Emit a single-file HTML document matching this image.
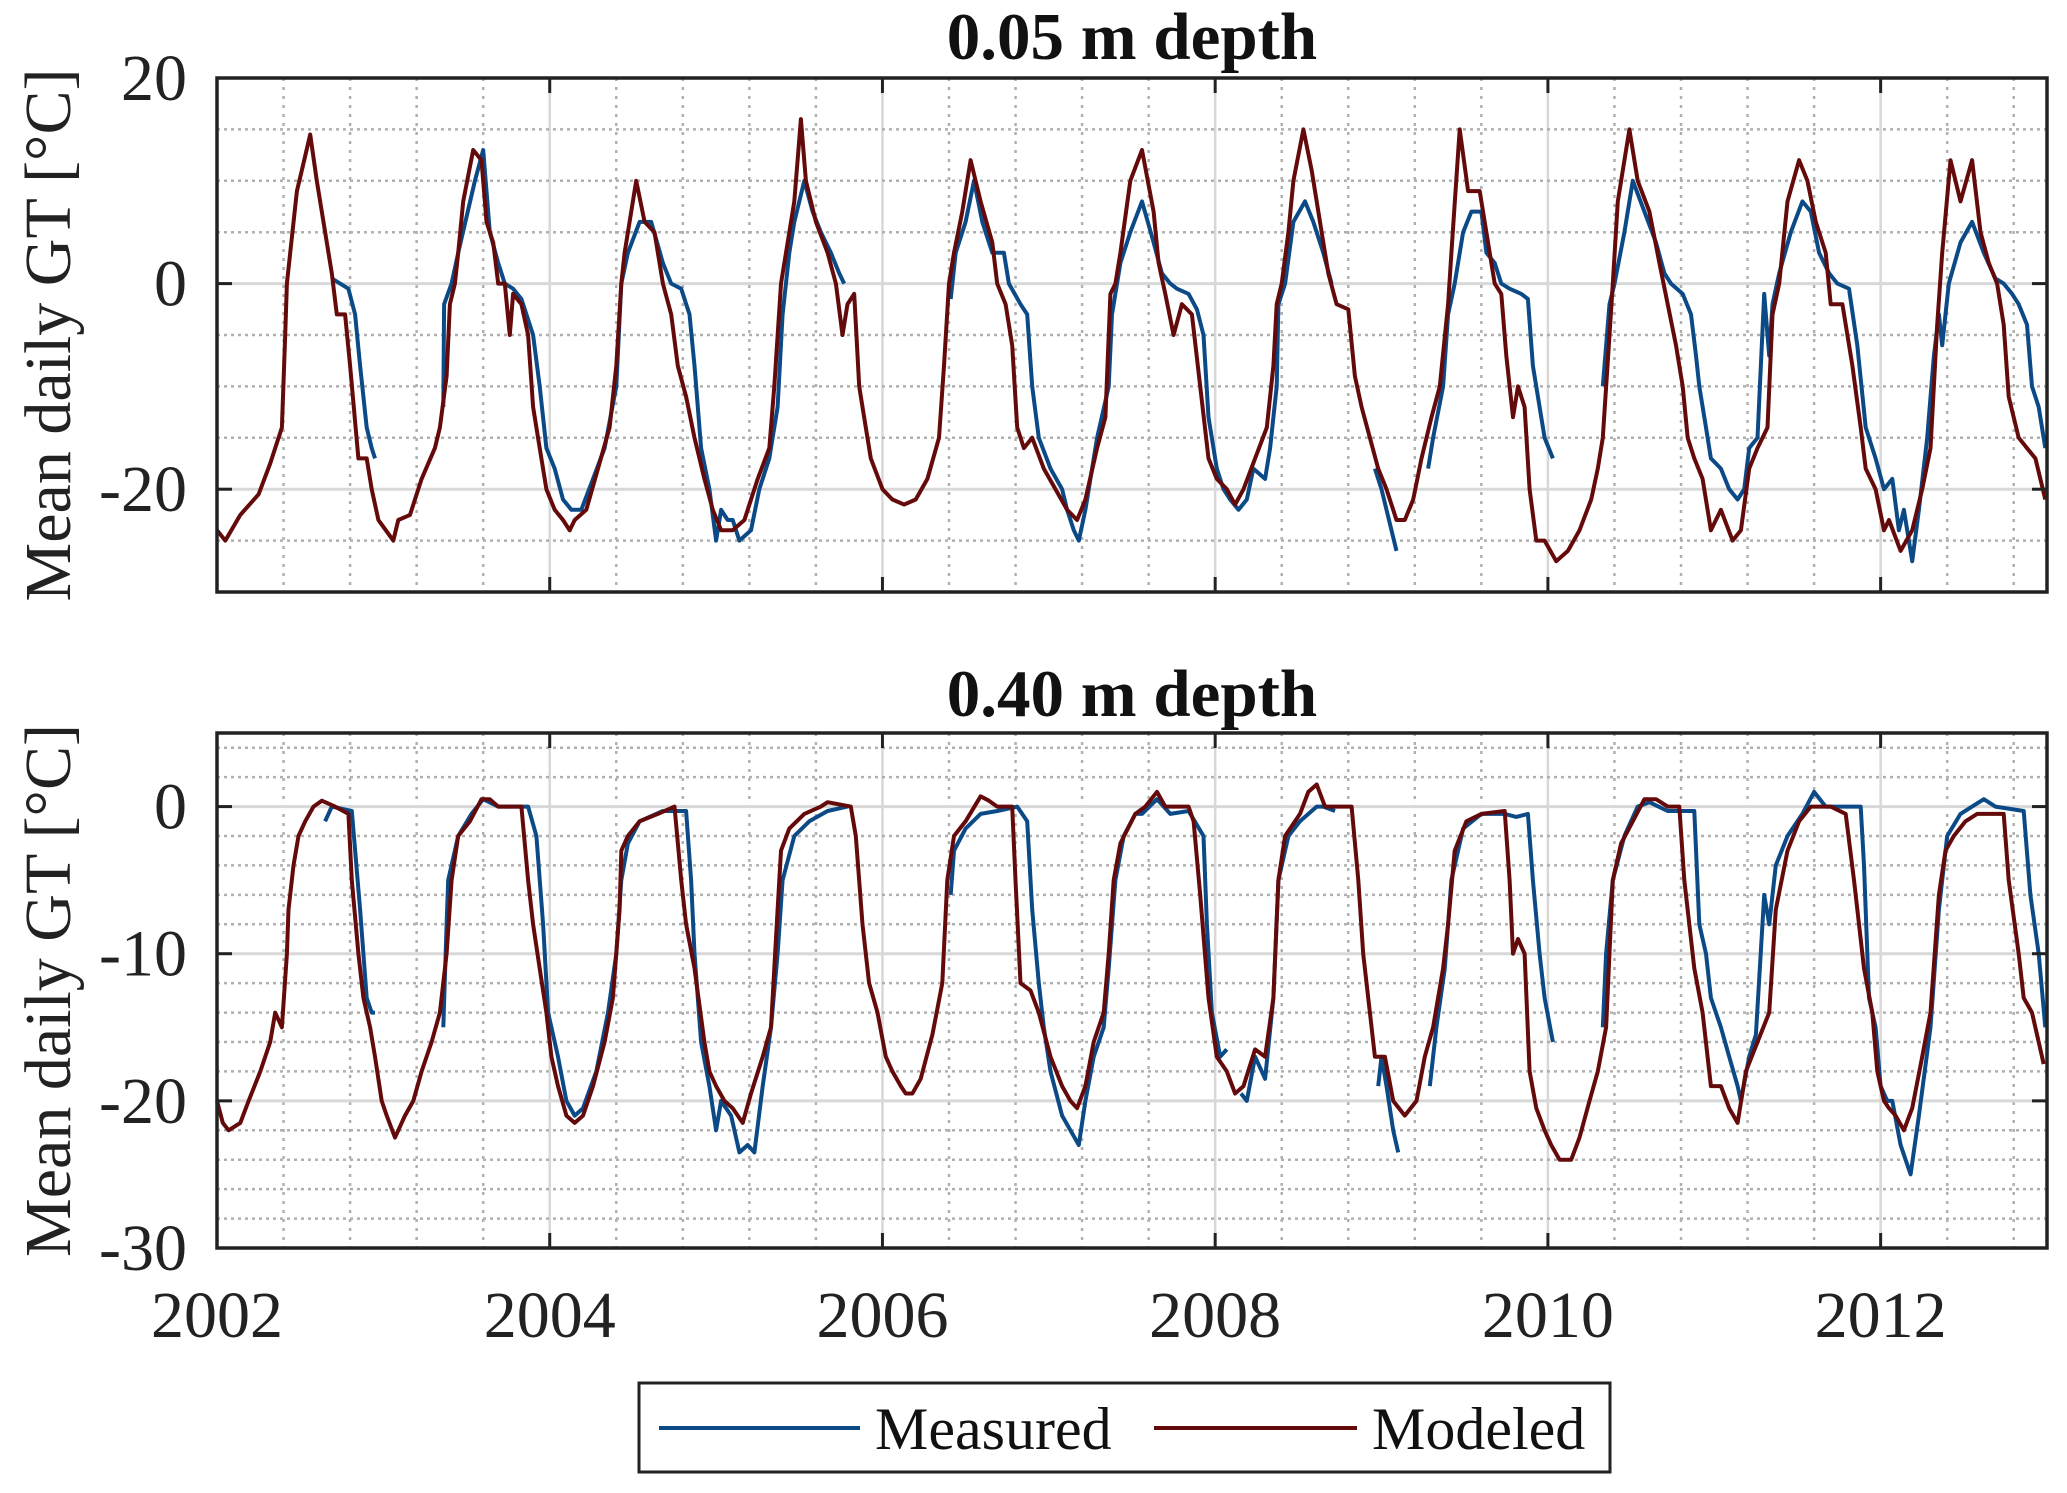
<!DOCTYPE html>
<html><head><meta charset="utf-8"><style>
html,body{margin:0;padding:0;background:#fff;}
svg{display:block;}
svg text{font-family:"Liberation Serif","Times New Roman",serif;}
</style></head><body>
<svg id="chart" width="2067" height="1493" viewBox="0 0 2067 1493" xmlns="http://www.w3.org/2000/svg" font-family="Liberation Serif, serif">
<rect width="2067" height="1493" fill="#fff"/>
<g id="plots"></g>
<g>
<rect x="639" y="1383" width="971" height="89" fill="#fff" stroke="#222" stroke-width="3"/>
<line x1="659" y1="1428" x2="860" y2="1428" stroke="#0b4a86" stroke-width="4"/>
<text x="875" y="1449" font-size="60" font-family="Liberation Serif, serif" fill="#111">Measured</text>
<line x1="1154" y1="1428" x2="1357" y2="1428" stroke="#640a0a" stroke-width="4"/>
<text x="1372" y="1449" font-size="60" font-family="Liberation Serif, serif" fill="#111">Modeled</text>
</g>
</svg>
<script>
// ---- data: 0.05 m depth ----
const modTopT=[2002.00,2002.05,2002.14,2002.25,2002.32,2002.39,2002.41,2002.42,2002.44,2002.48,2002.51,2002.56,2002.60,2002.63,2002.69,2002.72,2002.77,2002.80,2002.85,2002.90,2002.93,2002.97,2003.06,2003.09,2003.16,2003.23,2003.31,2003.34,2003.38,2003.40,2003.43,2003.45,2003.48,2003.54,2003.59,2003.62,2003.66,2003.69,2003.73,2003.76,2003.78,2003.83,2003.87,2003.90,2003.94,2003.98,2004.03,2004.08,2004.12,2004.15,2004.22,2004.29,2004.36,2004.40,2004.43,2004.45,2004.52,2004.57,2004.63,2004.68,2004.73,2004.77,2004.82,2004.87,2004.93,2004.98,2005.03,2005.10,2005.17,2005.25,2005.32,2005.35,2005.39,2005.42,2005.47,2005.51,2005.54,2005.60,2005.67,2005.72,2005.76,2005.79,2005.83,2005.86,2005.90,2005.93,2006.00,2006.06,2006.13,2006.20,2006.27,2006.34,2006.37,2006.40,2006.43,2006.48,2006.53,2006.59,2006.66,2006.69,2006.74,2006.78,2006.81,2006.85,2006.90,2006.97,2007.04,2007.11,2007.17,2007.22,2007.29,2007.34,2007.37,2007.40,2007.43,2007.49,2007.56,2007.63,2007.66,2007.70,2007.75,2007.80,2007.86,2007.91,2007.96,2008.01,2008.07,2008.12,2008.17,2008.24,2008.31,2008.35,2008.37,2008.40,2008.44,2008.47,2008.53,2008.58,2008.63,2008.68,2008.73,2008.80,2008.84,2008.88,2008.93,2008.98,2009.03,2009.09,2009.14,2009.19,2009.24,2009.30,2009.35,2009.40,2009.42,2009.47,2009.52,2009.59,2009.65,2009.68,2009.72,2009.75,2009.79,2009.82,2009.86,2009.89,2009.93,2009.98,2010.05,2010.12,2010.19,2010.26,2010.30,2010.33,2010.37,2010.39,2010.42,2010.49,2010.54,2010.61,2010.67,2010.72,2010.77,2010.81,2010.84,2010.88,2010.93,2010.98,2011.04,2011.11,2011.16,2011.21,2011.26,2011.32,2011.35,2011.39,2011.44,2011.51,2011.56,2011.61,2011.67,2011.70,2011.77,2011.83,2011.88,2011.91,2011.97,2012.02,2012.05,2012.12,2012.19,2012.25,2012.30,2012.34,2012.37,2012.42,2012.48,2012.55,2012.60,2012.65,2012.70,2012.74,2012.77,2012.83,2012.88,2012.93,2012.99];
const modTopV=[-24,-25,-22.5,-20.5,-17.5,-14,-5,0,3,9,11,14.5,10,7,1,-3,-3,-8,-17,-17,-20,-23,-25,-23,-22.5,-19,-16,-14,-9,-2,0,3,8,13,12,6,4,0,0,-5,-1,-2,-5,-12,-16,-20,-22,-23,-24,-23,-22,-18,-14,-8,0,3,10,6,5,0,-3,-8,-11,-15,-19,-22,-24,-24,-23,-19,-16,-10,0,3,8,16,10,6,3,0,-5,-2,-1,-10,-14,-17,-20,-21,-21.5,-21,-19,-15,-8,0,3,7,12,8,4,0,-2,-6,-14,-16,-15,-18,-20,-22,-23,-21,-16,-13,-1,0,3,10,13,7,2,-1,-5,-2,-3,-10,-17,-19,-20,-21.5,-20,-17,-14,-8,-2,0,5,10,15,11,6,1,-2,-2.5,-9,-12,-15,-18,-20,-23,-23,-21,-17,-13,-10,-2,3,15,9,9,3,0,-1,-7,-13,-10,-12,-20,-25,-25,-27,-26,-24,-21,-18,-15,-5,0,8,15,10,7,2,-2,-6,-10,-15,-17,-19,-24,-22,-25,-24,-18,-16,-14,-3,0,8,12,10,6,3,-2,-2,-8,-14,-18,-20,-24,-23,-26,-24,-20,-16,-4,3,12,8,12,5,2,0,-4,-11,-15,-16,-17,-21];
const meaTopT=[2002.69,2002.74,2002.79,2002.83,2002.86,2002.90,2002.93,2002.95,2002.96,2003.36,2003.365,2003.41,2003.45,2003.55,2003.60,2003.64,2003.69,2003.73,2003.78,2003.83,2003.90,2003.94,2003.98,2004.03,2004.08,2004.13,2004.19,2004.26,2004.33,2004.40,2004.43,2004.47,2004.54,2004.61,2004.68,2004.73,2004.79,2004.84,2004.87,2004.91,2004.96,2005.00,2005.03,2005.07,2005.10,2005.14,2005.21,2005.26,2005.32,2005.37,2005.40,2005.44,2005.47,2005.53,2005.58,2005.63,2005.69,2005.74,2005.77,2005.78,2006.41,2006.44,2006.50,2006.55,2006.60,2006.66,2006.73,2006.76,2006.83,2006.87,2006.90,2006.94,2007.01,2007.08,2007.11,2007.15,2007.18,2007.22,2007.29,2007.36,2007.38,2007.43,2007.49,2007.56,2007.63,2007.68,2007.73,2007.77,2007.84,2007.89,2007.93,2007.96,2008.01,2008.05,2008.09,2008.14,2008.19,2008.23,2008.30,2008.33,2008.37,2008.38,2008.42,2008.47,2008.54,2008.59,2008.65,2008.70,2008.71,2008.96,2009.00,2009.03,2009.09,2009.10,2009.28,2009.31,2009.37,2009.40,2009.44,2009.49,2009.54,2009.60,2009.63,2009.68,2009.72,2009.77,2009.84,2009.88,2009.91,2009.95,2009.98,2010.03,2010.04,2010.33,2010.37,2010.40,2010.46,2010.51,2010.58,2010.65,2010.70,2010.74,2010.81,2010.86,2010.89,2010.91,2010.95,2010.98,2011.04,2011.09,2011.14,2011.18,2011.21,2011.26,2011.30,2011.32,2011.33,2011.35,2011.39,2011.46,2011.53,2011.58,2011.63,2011.69,2011.74,2011.81,2011.86,2011.91,2011.97,2012.02,2012.07,2012.11,2012.14,2012.19,2012.23,2012.28,2012.32,2012.35,2012.37,2012.41,2012.48,2012.55,2012.62,2012.69,2012.74,2012.79,2012.83,2012.88,2012.91,2012.95,2012.99];
const meaTopV=[0.5,0,-0.5,-3,-8,-14,-16,-17,null,-12,-2,0,3,10,13,5,2,0,-0.5,-1.5,-5,-10,-16,-18,-21,-22,-22,-19,-16,-10,0,3,6,6,2,0,-0.5,-3,-8,-16,-20,-25,-22,-23,-23,-25,-24,-20,-17,-12,-3,3,6,10,7,5,3,1,0,null,-1.5,3,6,10,6,3,3,0,-2,-3,-10,-15,-18,-20,-22,-24,-25,-22,-15,-10,-3,2,5,8,4,1,0,-0.5,-1,-2.5,-5,-13,-18,-20,-21,-22,-21,-18,-19,-16,-10,-2,0,6,8,6,3,0,null,-18,-20,-22,-26,null,-18,-15,-10,-3,0,5,7,7,3,2,0,-0.5,-1,-1.5,-8,-12,-15,-17,null,-10,-2,0,5,10,7,4,1,0,-1,-3,-7,-10,-14,-17,-18,-20,-21,-20,-16,-15,-1,-5,-7,-2,1,5,8,7,3,1,0,-0.5,-6,-14,-17,-20,-19,-24,-22,-27,-22,-15,-7,-3,-6,0,4,6,3,0.5,0,-1,-2,-4,-10,-12,-16];
// ---- data: 0.40 m depth ----
const modBotT=[2002.00,2002.035,2002.07,2002.14,2002.19,2002.26,2002.32,2002.35,2002.39,2002.42,2002.43,2002.46,2002.49,2002.53,2002.58,2002.63,2002.71,2002.79,2002.81,2002.85,2002.88,2002.92,2002.95,2002.99,2003.02,2003.07,2003.13,2003.18,2003.23,2003.29,2003.34,2003.38,2003.41,2003.45,2003.52,2003.59,2003.64,2003.69,2003.83,2003.87,2003.90,2003.94,2003.98,2004.01,2004.05,2004.10,2004.15,2004.20,2004.26,2004.33,2004.38,2004.42,2004.43,2004.47,2004.54,2004.65,2004.75,2004.79,2004.82,2004.87,2004.93,2004.96,2005.00,2005.05,2005.10,2005.16,2005.21,2005.28,2005.33,2005.37,2005.39,2005.44,2005.53,2005.63,2005.67,2005.81,2005.84,2005.88,2005.92,2005.97,2006.02,2006.06,2006.11,2006.14,2006.18,2006.23,2006.30,2006.36,2006.39,2006.43,2006.50,2006.59,2006.64,2006.69,2006.78,2006.80,2006.83,2006.89,2006.94,2007.01,2007.08,2007.13,2007.17,2007.22,2007.27,2007.33,2007.36,2007.39,2007.43,2007.52,2007.58,2007.65,2007.70,2007.84,2007.87,2007.91,2007.96,2008.01,2008.07,2008.12,2008.17,2008.24,2008.30,2008.35,2008.38,2008.42,2008.51,2008.56,2008.61,2008.66,2008.82,2008.86,2008.89,2008.93,2008.96,2009.02,2009.07,2009.14,2009.21,2009.26,2009.31,2009.37,2009.40,2009.44,2009.51,2009.60,2009.74,2009.77,2009.79,2009.82,2009.86,2009.89,2009.93,2009.98,2010.02,2010.07,2010.14,2010.19,2010.25,2010.30,2010.35,2010.39,2010.44,2010.51,2010.58,2010.65,2010.72,2010.79,2010.82,2010.88,2010.93,2010.98,2011.04,2011.09,2011.14,2011.19,2011.26,2011.33,2011.37,2011.44,2011.51,2011.58,2011.70,2011.79,2011.84,2011.90,2011.95,2011.98,2012.02,2012.05,2012.09,2012.14,2012.19,2012.25,2012.30,2012.35,2012.39,2012.44,2012.51,2012.58,2012.74,2012.77,2012.83,2012.86,2012.91,2012.98];
const modBotV=[-20,-21.5,-22,-21.5,-20,-18,-16,-14,-15,-10,-7,-4,-2,-1,0,0.4,0,-0.5,-5,-10,-13,-15,-17,-20,-21,-22.5,-21,-20,-18,-16,-14,-10,-5,-2,-1,0.5,0.5,0,0,-5,-8,-11,-14,-17,-19,-21,-21.5,-21,-19,-16,-13,-7,-3,-2,-1,-0.5,0,-5,-8,-11,-16,-18,-19,-20,-20.5,-21.5,-19.5,-17,-15,-7,-3,-1.5,-0.5,0,0.3,0,-2,-8,-12,-14,-17,-18,-19,-19.5,-19.5,-18.5,-15.5,-12,-5,-2,-1,0.7,0.4,0,0,-5,-12,-12.5,-14,-17,-19,-20,-20.5,-19,-16,-14,-10,-5,-2.5,-0.5,0,1,0,0,-1,-6,-13,-17,-18,-19.5,-19,-16.5,-17,-13,-5,-2,-0.5,1,1.5,0,0,-5,-10,-14,-17,-17,-20,-21,-20,-17,-15,-11,-8,-3,-1,-0.5,-0.3,-5,-10,-9,-10,-18,-20.5,-22,-23,-24,-24,-22.5,-20,-18,-15,-5,-2.5,-1,0.5,0.5,0,0,-5,-11,-14,-19,-19,-20.5,-21.5,-18,-16,-14,-7,-3,-1,0,0,-0.5,-5,-11,-14,-18,-20,-20.5,-21,-22,-20.5,-17,-14,-6,-3,-2,-1,-0.5,-0.5,-5,-10,-13,-14,-17.5];
const meaBotT=[2002.65,2002.69,2002.81,2002.86,2002.90,2002.93,2002.95,2002.96,2003.36,2003.38,2003.39,2003.45,2003.53,2003.60,2003.69,2003.87,2003.92,2003.96,2003.99,2004.05,2004.10,2004.15,2004.20,2004.28,2004.35,2004.40,2004.43,2004.47,2004.54,2004.68,2004.82,2004.85,2004.87,2004.91,2004.96,2005.00,2005.03,2005.09,2005.14,2005.19,2005.23,2005.28,2005.33,2005.37,2005.40,2005.47,2005.56,2005.67,2005.79,2005.80,2006.41,2006.43,2006.50,2006.59,2006.69,2006.81,2006.87,2006.90,2006.94,2006.97,2007.01,2007.08,2007.13,2007.18,2007.22,2007.27,2007.33,2007.36,2007.40,2007.45,2007.52,2007.56,2007.65,2007.73,2007.84,2007.93,2007.95,2007.98,2008.03,2008.07,2008.10,2008.155,2008.19,2008.24,2008.30,2008.35,2008.38,2008.44,2008.51,2008.61,2008.65,2008.72,2008.73,2008.98,2009.00,2009.03,2009.07,2009.10,2009.11,2009.29,2009.33,2009.38,2009.42,2009.49,2009.60,2009.74,2009.81,2009.88,2009.91,2009.95,2009.98,2010.03,2010.04,2010.33,2010.35,2010.39,2010.46,2010.54,2010.61,2010.72,2010.88,2010.91,2010.95,2010.98,2011.04,2011.09,2011.14,2011.16,2011.21,2011.25,2011.30,2011.33,2011.37,2011.44,2011.53,2011.60,2011.67,2011.88,2011.90,2011.93,2011.97,2012.00,2012.04,2012.07,2012.12,2012.18,2012.23,2012.30,2012.35,2012.40,2012.48,2012.55,2012.62,2012.69,2012.86,2012.90,2012.95,2012.99];
const meaBotV=[-1,0,-0.3,-7,-13,-14,-14,null,-15,-8,-5,-2,-0.5,0.5,0,0,-2,-8,-14,-17,-20,-21,-20.5,-18,-14,-10,-5,-2.5,-1,-0.3,-0.3,-5,-10,-16,-19,-22,-20,-21,-23.5,-23,-23.5,-19,-15,-10,-5,-2,-1,-0.3,0,null,-6,-3,-1.5,-0.5,-0.3,0,-1,-7,-12,-15,-18,-21,-22,-23,-20,-17,-15,-11,-5,-2,-0.5,-0.5,0.5,-0.5,-0.3,-2,-8,-14,-17,-16.5,null,-19.5,-20,-17,-18.5,-13,-5,-2,-1,0,0,-0.3,null,-19,-17,-19,-22,-23.5,null,-19,-15,-11,-5,-1.5,-0.5,-0.5,-0.7,-0.5,-5,-10,-13,-16,null,-15,-10,-5,-2,0,0.3,-0.3,-0.3,-8,-10,-13,-15,-17,-19,-20,-17,-15.5,-6,-8,-4,-2,-0.5,1,0,0,-4,-13,-15,-19,-20,-20,-23,-25,-21,-15,-7,-2,-0.5,0,0.5,0,-0.3,-6,-10,-15];

const X0=2002, X1=2013, L=217, R=2047;
const FONT='Liberation Serif, Times New Roman, serif';
const panels=[
 {name:'top',top:78,bottom:592,ymin:-30,ymax:20,major:[20,0,-20],minorStep:5,title:'0.05 m depth',titleY:59,
  ticks:['20','0','-20'],mod:[modTopT,modTopV],mea:[meaTopT,meaTopV],xlabels:false},
 {name:'bottom',top:733,bottom:1248,ymin:-30,ymax:5,major:[0,-10,-20,-30],minorStep:2,title:'0.40 m depth',titleY:716,
  ticks:['0','-10','-20','-30'],mod:[modBotT,modBotV],mea:[meaBotT,meaBotV],xlabels:true}
];
const xTickYears=[2002,2004,2006,2008,2010,2012];
const NS='http://www.w3.org/2000/svg';
const root=document.getElementById('plots');
function mk(tag,attrs,parent){const e=document.createElementNS(NS,tag);for(const k in attrs)e.setAttribute(k,attrs[k]);(parent||root).appendChild(e);return e;}
function xs(t){return L+(t-X0)/(X1-X0)*(R-L);}
panels.forEach(p=>{
 const ys=v=>p.bottom-(v-p.ymin)/(p.ymax-p.ymin)*(p.bottom-p.top);
 const g=mk('g',{});
 
 
 for(let i=1;i<27.5;i++){const t=X0+i*0.4;if(t>=X1)break;const isMajor=Math.abs((t-X0)/2-Math.round((t-X0)/2))<1e-6;
  mk('line',{x1:xs(t),x2:xs(t),y1:p.top,y2:p.bottom,stroke:isMajor?'#d8d8d8':'#b0b0b0','stroke-width':2.5,'stroke-dasharray':isMajor?'none':'3 6'},g);}
 for(let v=p.ymin+p.minorStep;v<p.ymax;v+=p.minorStep){if(p.major.indexOf(v)>=0)continue;
  mk('line',{x1:L,x2:R,y1:ys(v),y2:ys(v),stroke:'#b0b0b0','stroke-width':2.5,'stroke-dasharray':'3 4'},g);}
 p.major.forEach(v=>{if(v>p.ymin&&v<p.ymax)mk('line',{x1:L,x2:R,y1:ys(v),y2:ys(v),stroke:'#d8d8d8','stroke-width':3},g);});
 function draw(arr,color,nm){let d='';let pen=false;for(let i=0;i<arr[0].length;i++){const v=arr[1][i];if(v===null){pen=false;continue;}d+=(pen?'L':'M')+xs(arr[0][i]).toFixed(1)+' '+ys(v).toFixed(1);pen=true;}
  const e=mk('path',{d:d,fill:'none',stroke:color,'stroke-width':4,'stroke-linejoin':'round'},g);
  
  }
 draw(p.mea,'#0b4a86',p.name+'-measured-line');
 draw(p.mod,'#640a0a',p.name+'-modeled-line');
 p.major.forEach((v,i)=>{const y=ys(v);
  if(v>p.ymin&&v<p.ymax){mk('line',{x1:L,x2:L+15,y1:y,y2:y,stroke:'#222','stroke-width':3},g);mk('line',{x1:R-15,x2:R,y1:y,y2:y,stroke:'#222','stroke-width':3},g);}
  const t=mk('text',{x:187,y:y+22,'text-anchor':'end','font-size':66,'font-family':FONT,fill:'#222'},g);t.textContent=p.ticks[i];
  
  });
 xTickYears.forEach(yr=>{const x=xs(yr);
  mk('line',{x1:x,x2:x,y1:p.top,y2:p.top+15,stroke:'#222','stroke-width':3},g);
  mk('line',{x1:x,x2:x,y1:p.bottom-15,y2:p.bottom,stroke:'#222','stroke-width':3},g);
  if(p.xlabels){const t=mk('text',{x:x,y:1337,'text-anchor':'middle','font-size':66,'font-family':FONT,fill:'#222'},g);t.textContent=String(yr);
   
   }});
 mk('rect',{x:L,y:p.top,width:R-L,height:p.bottom-p.top,fill:'none',stroke:'#222','stroke-width':3.5},g);
 const tt=mk('text',{x:(L+R)/2,y:p.titleY,'text-anchor':'middle','font-size':67,'font-weight':'bold','font-family':FONT,fill:'#111'},g);tt.textContent=p.title;
 
 
 const cy=(p.top+p.bottom)/2;
 const yl=mk('text',{x:0,y:0,transform:'translate(70 '+cy+') rotate(-90)','text-anchor':'middle','font-size':66,'font-family':FONT,fill:'#222'},g);yl.textContent='Mean daily GT [°C]';
 
 
});
</script>
</body></html>
